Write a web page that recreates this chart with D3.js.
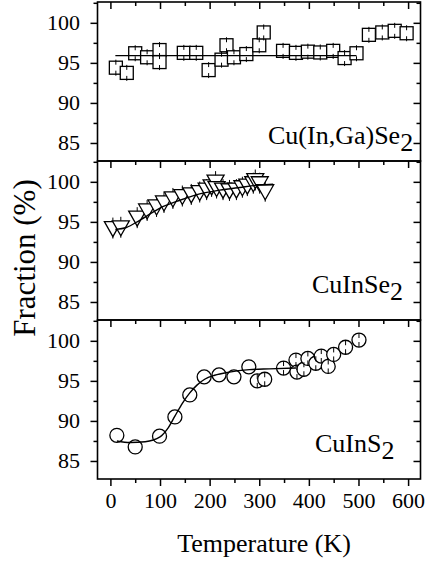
<!DOCTYPE html>
<html><head><meta charset="utf-8">
<script src="https://cdn.jsdelivr.net/npm/d3@7"></script>
<style>body{margin:0;background:#fff}svg{display:block}
svg text{font-family:"Liberation Serif","Times New Roman",Times,"DejaVu Serif",serif;fill:#000}</style>
</head><body>
<svg id="c" width="428" height="567"></svg>
<script>
// ---- data ----
const xTicks = [0,100,200,300,400,500,600];
const yTicks = [85,90,95,100];

// Cu(In,Ga)Se2 (squares)
const cigsT = [11,33,50,74,99,99,148,173,198,224,234,249,274,300,309,348,374,398,423,449,472,496,521,548,573,597];
const cigsV = [94.4,93.75,96.2,95.7,96.6,95.1,96.25,96.25,94.1,95.4,97.2,95.7,96.1,97.2,98.8,96.5,96.25,96.4,96.3,96.5,95.6,96.2,98.5,98.8,99.0,98.7];
const cigsFitT = [10,496];
const cigsFitV = [95.9,95.9];

// CuInSe2 (down triangles)
const cisT = [5,21,54,74,93,108,126,145,163,180,194,204,212,214,227,240,254,266,276,288,292,301,312];
const cisV = [94.1,94.2,95.4,96.3,96.8,97.3,97.8,98.1,98.3,98.6,98.9,99.3,99.9,99.1,98.9,98.8,98.9,99.2,99.4,99.7,100.1,99.7,98.7];
const cisFitT = [10,32,59,99,140,180,220,261,301,328];
const cisFitV = [94.05,94.3,95.2,96.7,97.7,98.5,98.96,99.3,99.6,99.7];

// CuInS2 (circles)
const cisSt = [13,50,99,130,160,189,219,249,279,296,311,349,374,376,390,398,414,425,439,450,474,501];
const cisSv = [88.2,86.75,88.1,90.5,93.25,95.5,95.75,95.5,96.75,95.0,95.2,96.6,97.6,96.1,96.45,97.8,97.2,98.1,96.8,98.3,99.2,100.1];
const cisSerr = [0,0,0,0,0,0,0,0,0,1,1,1,1,1,1,1,1,1,1,1,1,1];
const cisSFitT = [13,40,70,100,115,130,145,160,175,190,210,240,280,320,374];
const cisSFitV = [87.5,87.3,87.4,88.0,89.0,90.6,92.2,93.5,94.5,95.2,95.7,96.1,96.4,96.5,96.6];

const panelLabels = [["Cu(In,Ga)Se","2"],["CuInSe","2"],["CuInS","2"]];

// ---- layout ----
const L = 97.5, R = 420.5;
const tops = [2,161,320], PH = 159;
const svg = d3.select("#c");
const x = d3.scaleLinear().domain([-26,625]).range([L,R]);
const ys = tops.map(t => d3.scaleLinear().domain([82.75,102.6]).range([t+PH,t]));

function frame(i){
  const y = ys[i], t = tops[i];
  const g = svg.append("g");
  g.append("g").attr("transform",`translate(${L},0)`)
    .call(d3.axisLeft(y).tickValues([85,90,95,100]).tickSize(7).tickFormat(""))
    .call(a=>a.select(".domain").remove());
  g.append("g").attr("transform",`translate(${L},0)`)
    .call(d3.axisLeft(y).tickValues([87.5,92.5,97.5,102.5]).tickSize(4).tickFormat(""))
    .call(a=>a.select(".domain").remove());
  g.append("g").attr("transform",`translate(${R},0)`)
    .call(d3.axisLeft(y).tickValues([85,90,95,100]).tickSize(7).tickFormat(""))
    .call(a=>a.select(".domain").remove())
    .call(a=>a.selectAll(".tick line").attr("x2",-7));
  g.append("g").attr("transform",`translate(${R},0)`)
    .call(d3.axisLeft(y).tickValues([87.5,92.5,97.5,102.5]).tickSize(4).tickFormat(""))
    .call(a=>a.select(".domain").remove())
    .call(a=>a.selectAll(".tick line").attr("x2",-4));
  g.append("g").attr("transform",`translate(0,${t})`)
    .call(d3.axisBottom(x).tickValues(xTicks).tickSize(7).tickFormat(""))
    .call(a=>a.select(".domain").remove());
  g.append("g").attr("transform",`translate(0,${t})`)
    .call(d3.axisBottom(x).tickValues([50,150,250,350,450,550]).tickSize(4).tickFormat(""))
    .call(a=>a.select(".domain").remove());
  g.selectAll(".tick line").attr("stroke","#000").attr("stroke-width",1.5);
  g.selectAll("text.yl").data(yTicks).join("text").attr("class","yl")
    .attr("x",80).attr("y",d=>y(d)).attr("dy","0.34em")
    .attr("text-anchor","end").attr("font-size",22).text(d=>d);
  g.append("rect").attr("x",L).attr("y",t).attr("width",R-L).attr("height",PH)
    .attr("fill","none").attr("stroke","#000").attr("stroke-width",1.6);
}
[0,1,2].forEach(frame);

const bx = svg.append("g").attr("transform",`translate(0,${tops[2]+PH})`);
bx.call(d3.axisBottom(x).tickValues(xTicks).tickSize(7).tickPadding(6).tickFormat(d3.format("d")))
  .call(a=>a.select(".domain").remove());
bx.selectAll(".tick line").attr("stroke","#000").attr("stroke-width",1.5);
bx.selectAll(".tick text").attr("font-family",null).attr("font-size",22);
bx.attr("font-family",null).attr("font-size",null);
svg.append("g").attr("transform",`translate(0,${tops[2]+PH})`)
  .call(d3.axisBottom(x).tickValues([50,150,250,350,450,550]).tickSize(4).tickFormat(""))
  .call(a=>a.select(".domain").remove())
  .selectAll(".tick line").attr("stroke","#000").attr("stroke-width",1.5);

svg.append("text").attr("x",264).attr("y",552).attr("text-anchor","middle")
  .attr("font-size",26).text("Temperature (K)");
svg.append("text").attr("transform","translate(35,258) rotate(-90)").attr("text-anchor","middle")
  .attr("font-size",31).text("Fraction (%)");

const labPos = [[268,144],[312,293],[315,451.5]];
panelLabels.forEach((p,i)=>{
  const t = svg.append("text").attr("x",labPos[i][0]).attr("y",labPos[i][1]).attr("font-size",26);
  t.append("tspan").text(p[0]);
  t.append("tspan").attr("dy",7).text(p[1]);
});

const line = (y)=> d3.line().x(d=>x(d[0])).y(d=>y(d[1])).curve(d3.curveMonotoneX);

{
  const y = ys[0], g = svg.append("g");
  const pts = cigsT.map((t,i)=>[t,cigsV[i]]);
  const S = 13;
  g.selectAll("rect.m").data(pts).join("rect").attr("class","m")
    .attr("x",d=>x(d[0])-S/2).attr("y",d=>y(d[1])-S/2).attr("width",S).attr("height",S)
    .attr("fill","#fff").attr("stroke","#000").attr("stroke-width",1.3);
  g.selectAll("path.e").data(pts).join("path").attr("class","e")
    .attr("d",d=>{const cx=x(d[0]),cy=y(d[1]);return `M${cx},${cy-8}V${cy-3}M${cx},${cy+3}V${cy+8}`;})
    .attr("stroke","#000").attr("stroke-width",1);
  g.append("path").datum(cigsFitT.map((t,i)=>[t,cigsFitV[i]])).attr("d",line(y))
    .attr("fill","none").attr("stroke","#000").attr("stroke-width",1.4);
}
{
  const y = ys[1], g = svg.append("g");
  const pts = cisT.map((t,i)=>[t,cisV[i]]);
  const W = 17, H = 15;
  g.selectAll("path.e").data(pts).join("path").attr("class","e")
    .attr("d",d=>{const cx=x(d[0]),cy=y(d[1]);return `M${cx},${cy-H/2-4}V${cy+H/2+2}`;})
    .attr("stroke","#000").attr("stroke-width",1);
  g.selectAll("path.m").data(pts).join("path").attr("class","m")
    .attr("d",d=>{const cx=x(d[0]),cy=y(d[1]);return `M${cx-W/2},${cy-H/2}H${cx+W/2}L${cx},${cy+H/2}Z`;})
    .attr("fill","#fff").attr("stroke","#000").attr("stroke-width",1.3);
  g.append("path").datum(cisFitT.map((t,i)=>[t,cisFitV[i]])).attr("d",line(y))
    .attr("fill","none").attr("stroke","#000").attr("stroke-width",1.4);
}
{
  const y = ys[2], g = svg.append("g");
  const pts = cisSt.map((t,i)=>[t,cisSv[i],cisSerr[i]]);
  const r = 7;
  g.selectAll("circle").data(pts).join("circle")
    .attr("cx",d=>x(d[0])).attr("cy",d=>y(d[1])).attr("r",r)
    .attr("fill","#fff").attr("stroke","#000").attr("stroke-width",1.3);
  g.selectAll("path.e").data(pts.filter(d=>d[2])).join("path").attr("class","e")
    .attr("d",d=>{const cx=x(d[0]),cy=y(d[1]);return `M${cx},${cy-r}V${cy-2}M${cx},${cy+2}V${cy+r}`;})
    .attr("stroke","#000").attr("stroke-width",1);
  g.append("path").datum(cisSFitT.map((t,i)=>[t,cisSFitV[i]])).attr("d",line(y))
    .attr("fill","none").attr("stroke","#000").attr("stroke-width",1.4);
}
</script>
</body></html>
